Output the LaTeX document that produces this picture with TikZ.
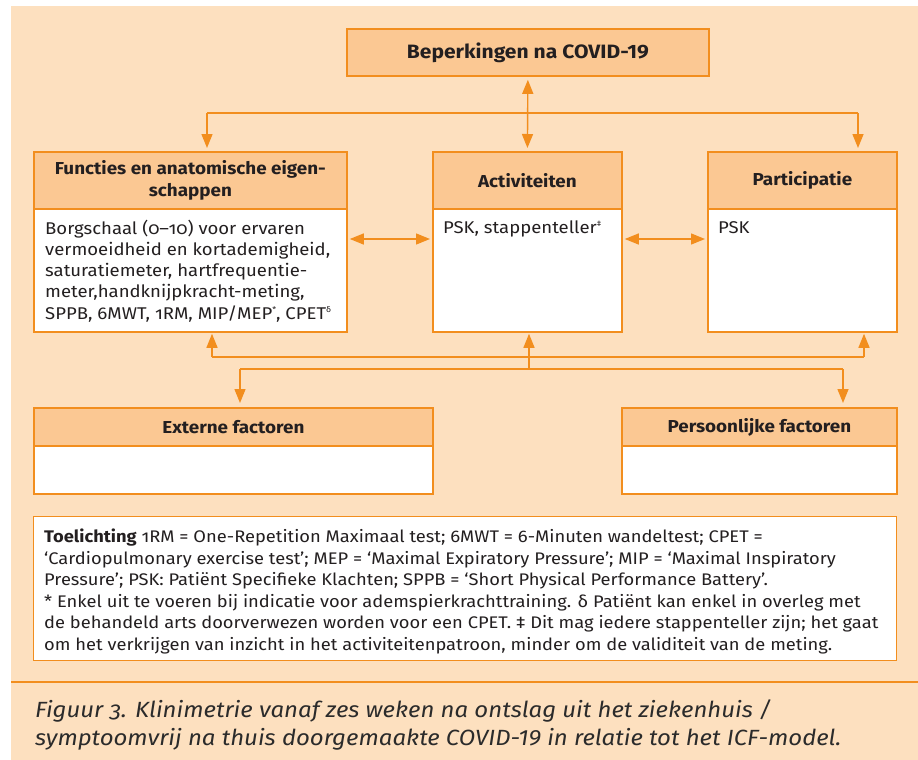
\documentclass[tikz,border=0pt]{standalone}
\usepackage{fontspec}
\setmainfont{Fira Sans}[Numbers=OldStyle, FakeStretch=1.09]
\usetikzlibrary{arrows.meta}
\definecolor{peach}{HTML}{FDE0BF}
\definecolor{headfill}{HTML}{FBC893}
\definecolor{icforange}{HTML}{F28E1E}
\definecolor{txt}{HTML}{231F20}
\definecolor{captxt}{HTML}{2B2B2B}
\newcommand{\lining}[1]{{\addfontfeatures{Numbers=Lining}#1}}
\newcommand{\tinysup}[1]{\raisebox{0.75ex}{\fontsize{8}{8}\selectfont #1}}
\begin{document}
\begin{tikzpicture}[x=1pt,y=-1pt,
  tip/.tip={Triangle[width=11pt,length=14pt]},
  headbox/.style={draw=icforange, fill=headfill, line width=1.8pt, inner sep=0pt,
    font=\bfseries\fontsize{17.3}{22}\selectfont, text=txt, align=center, anchor=north west},
  bodybox/.style={draw=icforange, fill=white, line width=1.8pt, inner sep=0pt, anchor=north west},
  bodytext/.style={font=\fontsize{17}{21.3}\selectfont, text=txt, align=left, inner sep=0pt, anchor=north west},
  legtext/.style={font=\fontsize{16.8}{21.5}\selectfont, text=txt, align=left, inner sep=0pt, anchor=north west},
  captext/.style={font=\itshape\fontsize{22}{28.5}\selectfont, text=captxt, align=left, inner sep=0pt, anchor=north west},
  conn/.style={draw=icforange, line width=1.4pt},
  sep/.style={draw=icforange, line width=1.6pt}
]
\useasboundingbox (0,0) rectangle (918,760);
\fill[peach] (11,6) rectangle (918,760);

% top box
\node[headbox, minimum width=362, minimum height=47, font=\bfseries\fontsize{19.3}{22}\selectfont] (bep) at (346,28) {Beperkingen na \lining{COVID-19}};

% functies
\node[headbox, minimum width=313, minimum height=57] (funhead) at (33,151) {Functies en anatomische eigen-\\schappen};
\node[bodybox, minimum width=313, minimum height=123] (funbody) at (33,208) {};
\node[bodytext] (funtext) at (45,219.5) {Borgschaal (0–10) voor ervaren\\vermoeidheid en kortademigheid,\\saturatiemeter, hartfrequentie-\\meter,handknijpkracht-meting,\\SPPB, 6MWT, 1RM, MIP/MEP\tinysup{*}, CPET\tinysup{δ}};

% activiteiten
\node[headbox, minimum width=189, minimum height=57] (acthead) at (432,151) {Activiteiten};
\node[bodybox, minimum width=189, minimum height=123] (actbody) at (432,208) {};
\node[bodytext] (acttext) at (443,220.5) {PSK, stappenteller\tinysup{‡}};

% participatie
\node[headbox, minimum width=189, minimum height=57] (parthead) at (707,151) {Participatie};
\node[bodybox, minimum width=189, minimum height=123] (partbody) at (707,208) {};
\node[bodytext] (parttext) at (718,221) {PSK};

% externe / persoonlijke
\node[headbox, minimum width=399, minimum height=38] (exthead) at (33,407) {Externe factoren};
\node[bodybox, minimum width=399, minimum height=48] (extbody) at (33,445) {};
\node[headbox, minimum width=275, minimum height=38] (pershead) at (621,407) {Persoonlijke factoren};
\node[bodybox, minimum width=275, minimum height=48] (persbody) at (621,445) {};

% legend
\node[bodybox, line width=1.3pt, minimum width=863, minimum height=144] (legbox) at (33,516) {};
\node[legtext] (legtext) at (44,529) {\textbf{Toelichting} 1RM = One-Repetition Maximaal test; 6MWT = 6-Minuten wandeltest; CPET =\\
‘Cardiopulmonary exercise test’; MEP = ‘Maximal Expiratory Pressure’; MIP = ‘Maximal Inspiratory\\
Pressure’; PSK: Patiënt Specifieke Klachten; SPPB = ‘Short Physical Performance Battery’.\\
* Enkel uit te voeren bij indicatie voor ademspierkrachttraining. δ Patiënt kan enkel in overleg met\\
de behandeld arts doorverwezen worden voor een CPET. ‡ Dit mag iedere stappenteller zijn; het gaat\\
om het verkrijgen van inzicht in het activiteitenpatroon, minder om de validiteit van de meting.};

% separator and caption
\coordinate (sl) at (11,682);
\coordinate (sr) at (918,682);
\draw[sep] (sl) -- (sr);
\node[captext] (cap) at (35,699) {Figuur 3. Klinimetrie vanaf zes weken na ontslag uit het ziekenhuis /\\symptoomvrij na thuis doorgemaakte \lining{COVID-19} in relatie tot het ICF-model.};

% top connectors
\draw[conn, tip-tip, shorten <=3pt, shorten >=3pt] (bep.south) -- (acthead.north);
\coordinate (tl) at (207,113);
\coordinate (tr) at (858,113);
\draw[conn] (tl) -- (tr);
\draw[conn, -tip, shorten >=3pt] (tl) -- (tl |- funhead.north);
\draw[conn, -tip, shorten >=3pt] (tr) -- (tr |- parthead.north);

% horizontal double arrows
\coordinate (ly) at (0,239);
\draw[conn, tip-tip, shorten <=2pt, shorten >=2pt] (funbody.east |- ly) -- (actbody.west |- ly);
\draw[conn, tip-tip, shorten <=2pt, shorten >=2pt] (actbody.east |- ly) -- (partbody.west |- ly);

% lower connectors
\coordinate (b1) at (212,357);
\coordinate (b3) at (864,357);
\draw[conn] (b1) -- (b3);
\draw[conn, -tip, shorten >=1pt] (b1) -- (b1 |- funbody.south);
\draw[conn, -tip, shorten >=1pt] (b3) -- (b3 |- partbody.south);
\coordinate (m2) at (529,369);
\draw[conn, -tip, shorten >=1pt] (m2) -- (m2 |- actbody.south);
\coordinate (c1) at (240,369);
\coordinate (c2) at (843,369);
\draw[conn] (c1) -- (c2);
\draw[conn, -tip, shorten >=4pt] (c1) -- (c1 |- exthead.north);
\draw[conn, -tip, shorten >=4pt] (c2) -- (c2 |- pershead.north);
\end{tikzpicture}
\end{document}
